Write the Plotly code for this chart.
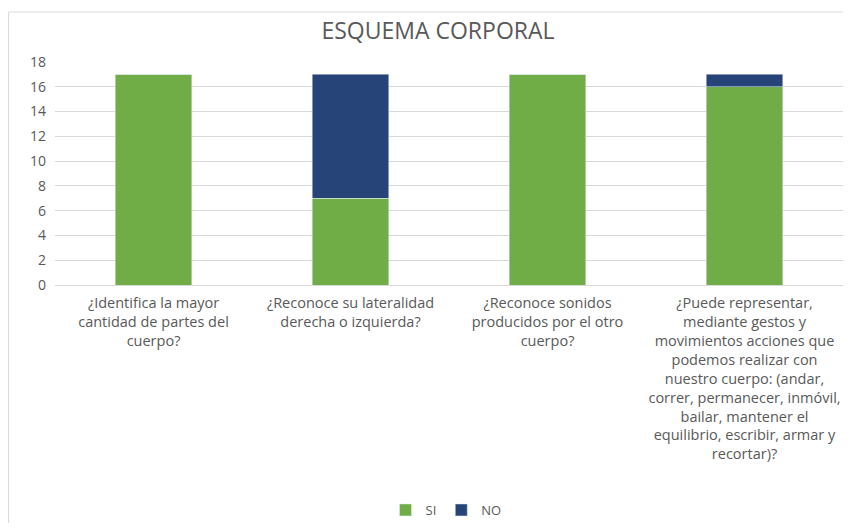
import plotly.graph_objects as go

categorias = [
    "¿Identifica la mayor<br>cantidad de partes del<br>cuerpo?",
    "¿Reconoce su lateralidad<br>derecha o izquierda?",
    "¿Reconoce sonidos<br>producidos por el otro<br>cuerpo?",
    "¿Puede representar,<br>mediante gestos y<br>movimientos acciones que<br>podemos realizar con<br>nuestro cuerpo: (andar,<br>correr, permanecer, inmóvil,<br>bailar, mantener el<br>equilibrio, escribir, armar y<br>recortar)?",
]
si = [17, 7, 17, 16]
no = [0, 10, 0, 1]

gris = "#595959"
fuente = "Open Sans"

fig = go.Figure()
fig.add_trace(go.Bar(x=categorias, y=si, name="SI", marker_color="#70AD47", width=0.39))
fig.add_trace(go.Bar(x=categorias, y=no, name="NO", marker_color="#264478", width=0.39))

# la pagina tiene 8px de margen en el body
W, H = 835, 515
L, R, T, B = 47, 0, 54, 238
pw = W - L - R
ph = H - T - B

# marco del grafico
fig.add_shape(type="line", xref="paper", yref="paper",
              x0=(0.5 - L) / pw, x1=(0.5 - L) / pw, y0=(T + ph - H) / ph, y1=(T + ph - 4) / ph,
              line=dict(color="#D9D9D9", width=1))
fig.add_shape(type="line", xref="paper", yref="paper",
              x0=(0.5 - L) / pw, x1=1.0, y0=(T + ph - 4) / ph, y1=(T + ph - 4) / ph,
              line=dict(color="#D9D9D9", width=1))

fig.update_layout(
    width=W, height=H,
    barmode="stack",
    title=dict(text="ESQUEMA CORPORAL", x=430 / W, xanchor="center",
               y=(H - 23) / H, yanchor="middle", yref="container",
               font=dict(family=fuente, size=23, color=gris)),
    font=dict(family=fuente, size=12, color=gris),
    plot_bgcolor="white", paper_bgcolor="white",
    margin=dict(l=L, r=R, t=T, b=B, autoexpand=False),
    xaxis=dict(showgrid=False, showline=True, linecolor="#D9D9D9", automargin=False,
               tickfont=dict(size=14.5, color=gris), ticks="", ticklabelstandoff=5),
    yaxis=dict(range=[0, 18], dtick=2, gridcolor="#D9D9D9", zeroline=False, automargin=False,
               tickfont=dict(size=14, color=gris), ticks="", ticklabelstandoff=8),
    legend=dict(orientation="h", x=438 / W, xanchor="center", xref="container",
                y=(H - 502) / H, yanchor="middle", yref="container",
                font=dict(size=13, color=gris), itemwidth=30, traceorder="normal"),
)

fig.write_html("out.html")
